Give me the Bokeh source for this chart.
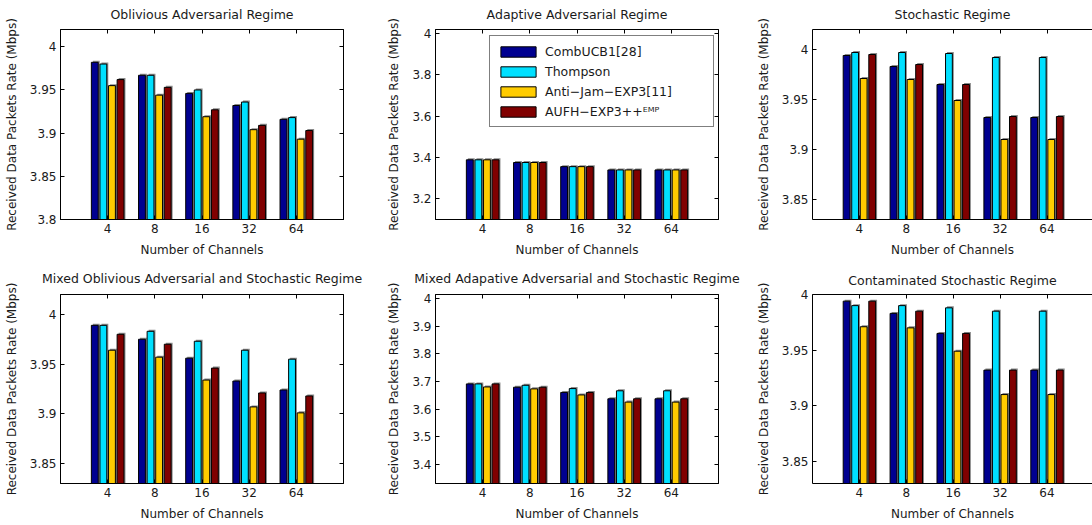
from bokeh.plotting import figure
from bokeh.models import Range1d, FixedTicker, LinearAxis, Legend, LegendItem, CustomLabelingPolicy
from bokeh.layouts import row, column
from bokeh.embed import file_html
from bokeh.resources import INLINE

# ---------------- data ----------------
channels = ["4", "8", "16", "32", "64"]
algorithms = ["CombUCB1[28]", "Thompson", "Anti\u2212Jam\u2212EXP3[11]", "AUFH\u2212EXP3++\u1d31\u1d39\u1d3e"]

obl_combucb1 = [3.982, 3.967, 3.946, 3.932, 3.916]
obl_thompson = [3.980, 3.967, 3.950, 3.936, 3.918]
obl_antijam = [3.955, 3.944, 3.919, 3.904, 3.893]
obl_aufh = [3.962, 3.953, 3.927, 3.909, 3.903]
obl_yticks = [3.8, 3.85, 3.9, 3.95, 4.0]

ada_combucb1 = [3.389, 3.376, 3.356, 3.340, 3.340]
ada_thompson = [3.389, 3.376, 3.356, 3.340, 3.340]
ada_antijam = [3.389, 3.376, 3.356, 3.340, 3.340]
ada_aufh = [3.389, 3.376, 3.356, 3.340, 3.340]
ada_yticks = [3.2, 3.4, 3.6, 3.8, 4.0]

sto_combucb1 = [3.994, 3.983, 3.965, 3.932, 3.932]
sto_thompson = [3.997, 3.997, 3.996, 3.992, 3.992]
sto_antijam = [3.971, 3.970, 3.949, 3.910, 3.910]
sto_aufh = [3.995, 3.985, 3.965, 3.933, 3.933]
sto_yticks = [3.85, 3.9, 3.95, 4.0]

mobl_combucb1 = [3.989, 3.975, 3.956, 3.933, 3.924]
mobl_thompson = [3.989, 3.983, 3.973, 3.964, 3.955]
mobl_antijam = [3.964, 3.957, 3.934, 3.907, 3.901]
mobl_aufh = [3.980, 3.970, 3.946, 3.921, 3.918]
mobl_yticks = [3.85, 3.9, 3.95, 4.0]

mada_combucb1 = [3.691, 3.679, 3.660, 3.637, 3.637]
mada_thompson = [3.691, 3.686, 3.674, 3.666, 3.666]
mada_antijam = [3.680, 3.673, 3.651, 3.625, 3.625]
mada_aufh = [3.691, 3.679, 3.660, 3.637, 3.637]
mada_yticks = [3.4, 3.5, 3.6, 3.7, 3.8, 3.9, 4.0]

con_combucb1 = [3.994, 3.983, 3.965, 3.932, 3.932]
con_thompson = [3.990, 3.990, 3.988, 3.985, 3.985]
con_antijam = [3.971, 3.970, 3.949, 3.910, 3.910]
con_aufh = [3.994, 3.985, 3.965, 3.932, 3.932]
con_yticks = [3.85, 3.9, 3.95, 4.0]

# ---------------- style ----------------
COLORS = ["#000090", "#00E0FF", "#FFCC00", "#800000"]
FONT = "DejaVu Sans"
TXT = "#1a1a1a"
PITCH = 0.182
BAR_W = 0.145


def fmt(v):
    return ("%g" % v)


def style_axis(ax, ticks, labels=True):
    ax.ticker = FixedTicker(ticks=ticks)
    ax.major_tick_in = 4
    ax.major_tick_out = 0
    ax.minor_tick_line_color = None
    ax.axis_line_color = "black"
    ax.major_tick_line_color = "black"
    if labels:
        ax.major_label_text_font = FONT
        ax.major_label_text_font_size = "12px"
        ax.major_label_text_color = TXT
        ax.major_label_standoff = 4
    else:
        ax.major_label_policy = CustomLabelingPolicy(code="return []")
        ax.major_label_text_font_size = "1px"
        ax.major_label_standoff = 0


def panel(title, series, yticks, y0, y1, width, height, bl, br, bt, bb,
          x1=6.0, edge=False, legend=None, tstand=7):
    p = figure(width=width, height=height, x_range=Range1d(0, x1), y_range=Range1d(y0, y1),
               output_backend="svg", toolbar_location=None,
               min_border_left=bl, min_border_right=br, min_border_top=bt, min_border_bottom=bb)
    p.title.text = title
    p.title.text_font = FONT
    p.title.text_font_size = "12.5px"
    p.title.text_font_style = "normal"
    p.title.text_color = TXT
    p.title.align = "center"
    p.title.standoff = tstand
    p.xgrid.grid_line_color = None
    p.ygrid.grid_line_color = None
    p.background_fill_color = "white"
    p.border_fill_color = "white"
    p.outline_line_color = None if edge else "black"

    xt = [1, 2, 3, 4, 5]
    xa = p.xaxis[0]
    style_axis(xa, xt)
    xa.major_label_overrides = {i + 1: c for i, c in enumerate(channels)}
    xa.axis_label = "Number of Channels"
    xa.axis_label_text_font = FONT
    xa.axis_label_text_font_size = "12px"
    xa.axis_label_text_font_style = "normal"
    xa.axis_label_text_color = TXT
    xa.axis_label_standoff = 7

    ya = p.yaxis[0]
    style_axis(ya, yticks)
    ya.major_label_overrides = {t: fmt(t) for t in yticks}
    ya.axis_label = "Received Data Packets Rate (Mbps)"
    ya.axis_label_text_font = FONT
    ya.axis_label_text_font_size = "12px"
    ya.axis_label_text_font_style = "normal"
    ya.axis_label_text_color = TXT
    ya.axis_label_standoff = 8

    top = LinearAxis()
    style_axis(top, xt, labels=False)
    p.add_layout(top, "above")
    if not edge:
        right = LinearAxis()
        style_axis(right, yticks, labels=False)
        p.add_layout(right, "right")

    frame_h = height - bt - bb
    dy = 1.5 * (y1 - y0) / frame_h
    dx = 1.5 * x1 / (width - bl - br)
    for i, vals in enumerate(series):
        xs = [c + (i - 1.5) * PITCH for c in xt]
        p.vbar(x=[v + dx for v in xs], top=[v + dy for v in vals], bottom=0, width=BAR_W,
               fill_color="#8a8a8a", line_color=None)
    rends = []
    for i, vals in enumerate(series):
        xs = [c + (i - 1.5) * PITCH for c in xt]
        r = p.vbar(x=xs, top=vals, bottom=0, width=BAR_W,
                   fill_color=COLORS[i], line_color="black", line_width=1)
        rends.append(r)
    if legend is not None:
        items = [LegendItem(label=algorithms[i], renderers=[rends[i]]) for i in range(4)]
        lg = Legend(items=items, location=legend)
        lg.glyph_width = 44
        lg.glyph_height = 13
        lg.label_standoff = 5
        lg.label_width = 162
        lg.label_height = 18
        lg.spacing = 2
        lg.padding = 6
        lg.margin = 0
        lg.border_line_color = "black"
        lg.border_line_width = 1
        lg.background_fill_color = "white"
        lg.background_fill_alpha = 1
        lg.label_text_font = FONT
        lg.label_text_font_size = "12.5px"
        lg.label_text_color = TXT
        p.add_layout(lg, "center")
    return p


TOP_H, BOT_H = 262, 262
W1, W2, W3 = 384, 369, 339

p1 = panel("Oblivious Adversarial Regime",
           [obl_combucb1, obl_thompson, obl_antijam, obl_aufh], obl_yticks, 3.8, 4.02,
           W1, TOP_H, 60, 41, 28, 43)
p2 = panel("Adaptive Adversarial Regime",
           [ada_combucb1, ada_thompson, ada_antijam, ada_aufh], ada_yticks, 3.1, 4.02,
           W2, TOP_H, 50, 35, 29, 43, legend=(54, 92))
p3 = panel("Stochastic Regime",
           [sto_combucb1, sto_thompson, sto_antijam, sto_aufh], sto_yticks, 3.83, 4.02,
           W3, TOP_H, 57, 0, 28, 43, x1=5.97, edge=True)
p4 = panel("Mixed Oblivious Adversarial and Stochastic Regime",
           [mobl_combucb1, mobl_thompson, mobl_antijam, mobl_aufh], mobl_yticks, 3.83, 4.02,
           W1, BOT_H, 60, 41, 32, 41, tstand=9)
p5 = panel("Mixed Adapative Adversarial and Stochastic Regime",
           [mada_combucb1, mada_thompson, mada_antijam, mada_aufh], mada_yticks, 3.33, 4.015,
           W2, BOT_H, 51, 35, 32, 41, tstand=9)
p6 = panel("Contaminated Stochastic Regime",
           [con_combucb1, con_thompson, con_antijam, con_aufh], con_yticks, 3.83, 4.0,
           W3, BOT_H, 57, 0, 31, 41, x1=5.97, edge=True, tstand=6)

layout = column(row(p1, p2, p3), row(p4, p5, p6))
open("out.html", "w").write(file_html(layout, INLINE))
